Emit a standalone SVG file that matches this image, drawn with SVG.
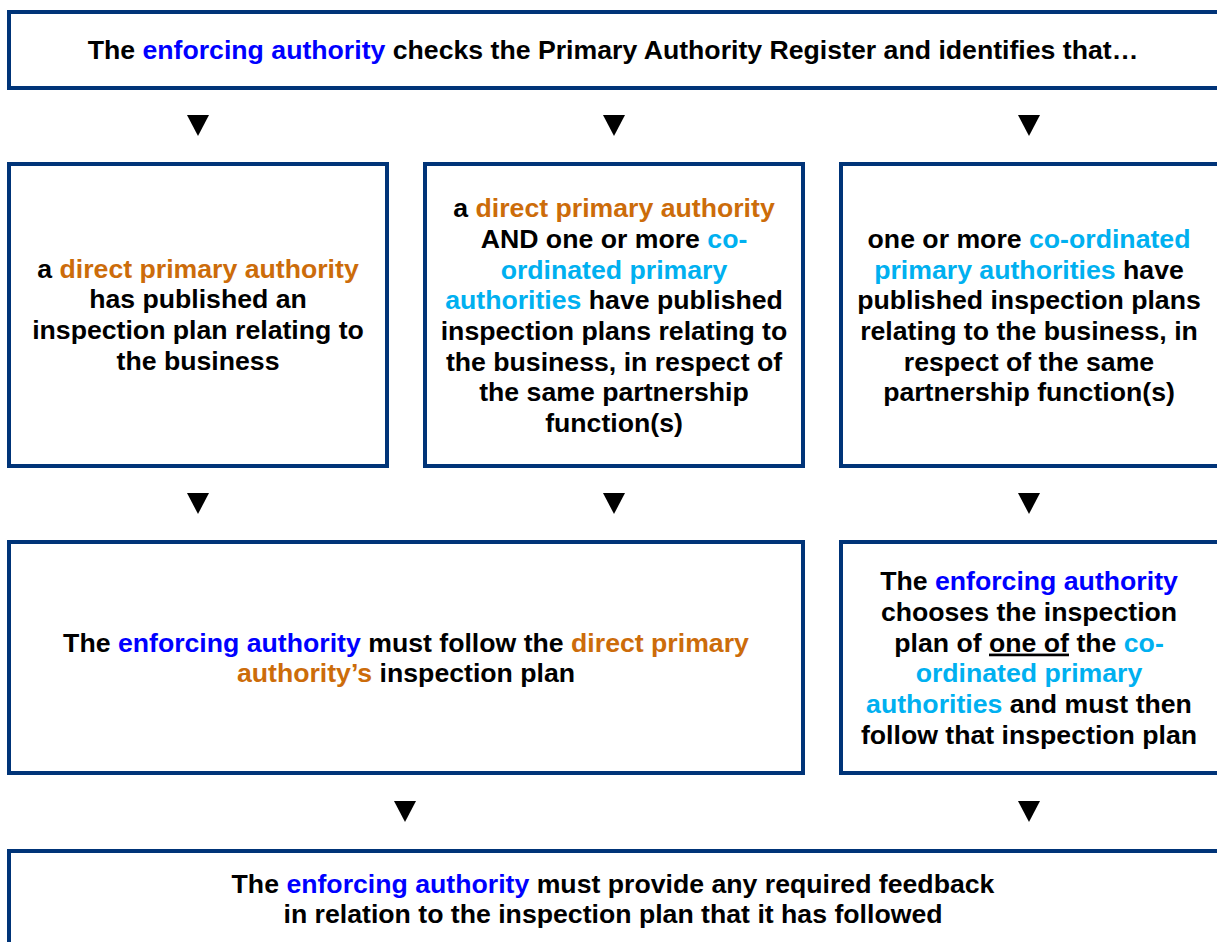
<svg xmlns="http://www.w3.org/2000/svg" width="1217" height="942" viewBox="0 0 1217 942">
<style>
.box{fill:#ffffff;stroke:#003478;stroke-width:4;stroke-linejoin:miter}
text{font-family:"Liberation Sans",Arial,sans-serif;font-weight:bold;font-size:26.67px;fill:#000000;text-anchor:middle}
.b{fill:#0000FF}
.o{fill:#CC6C0A}
.c{fill:#00B0F0}
.arr{fill:#000000}
</style>
<rect x="0" y="0" width="1217" height="942" fill="#ffffff"/>
<g id="connectors">
<polygon class="arr" points="187,115 209,115 198,136"/>
<polygon class="arr" points="603,115 625,115 614,136"/>
<polygon class="arr" points="1018,115 1040,115 1029,136"/>
<polygon class="arr" points="187,493 209,493 198,514"/>
<polygon class="arr" points="603,493 625,493 614,514"/>
<polygon class="arr" points="1018,493 1040,493 1029,514"/>
<polygon class="arr" points="394,801 416,801 405,822"/>
<polygon class="arr" points="1018,801 1040,801 1029,822"/>
</g>
<g id="node-top">
<rect class="box" x="9" y="12" width="1214" height="76"/>
<text x="613" y="59">The <tspan class="b">enforcing authority</tspan> checks the Primary Authority Register and identifies that…</text>
</g>
<g id="node-direct">
<rect class="box" x="9" y="164" width="378" height="302"/>
<text x="198" y="277.5">a <tspan class="o">direct primary authority</tspan></text>
<text x="198" y="308.2">has published an</text>
<text x="198" y="338.8">inspection plan relating to</text>
<text x="198" y="369.5">the business</text>
</g>
<g id="node-both">
<rect class="box" x="425" y="164" width="378" height="302"/>
<text x="614" y="217.2">a <tspan class="o">direct primary authority</tspan></text>
<text x="614" y="247.9">AND one or more <tspan class="c">co-</tspan></text>
<text x="614" y="278.5"><tspan class="c">ordinated primary</tspan></text>
<text x="614" y="309.2"><tspan class="c">authorities</tspan> have published</text>
<text x="614" y="339.9">inspection plans relating to</text>
<text x="614" y="370.5">the business, in respect of</text>
<text x="614" y="401.2">the same partnership</text>
<text x="614" y="431.9">function(s)</text>
</g>
<g id="node-coordinated">
<rect class="box" x="841" y="164" width="382" height="302"/>
<text x="1029" y="247.8">one or more <tspan class="c">co-ordinated</tspan></text>
<text x="1029" y="278.5"><tspan class="c">primary authorities</tspan> have</text>
<text x="1029" y="309.1">published inspection plans</text>
<text x="1029" y="339.8">relating to the business, in</text>
<text x="1029" y="370.5">respect of the same</text>
<text x="1029" y="401.1">partnership function(s)</text>
</g>
<g id="node-follow-direct">
<rect class="box" x="9" y="542" width="794" height="231"/>
<text x="406" y="651.7">The <tspan class="b">enforcing authority</tspan> must follow the <tspan class="o">direct primary</tspan></text>
<text x="406" y="682.4"><tspan class="o">authority’s</tspan> inspection plan</text>
</g>
<g id="node-choose">
<rect class="box" x="841" y="542" width="382" height="231"/>
<text x="1029" y="590.3">The <tspan class="b">enforcing authority</tspan></text>
<text x="1029" y="621">chooses the inspection</text>
<text x="1029" y="651.6">plan of <tspan text-decoration="underline">one of</tspan> the <tspan class="c">co-</tspan></text>
<text x="1029" y="682.3"><tspan class="c">ordinated primary</tspan></text>
<text x="1029" y="713"><tspan class="c">authorities</tspan> and must then</text>
<text x="1029" y="743.6">follow that inspection plan</text>
</g>
<g id="node-feedback">
<rect class="box" x="9" y="851" width="1214" height="120"/>
<text x="613" y="892.5">The <tspan class="b">enforcing authority</tspan> must provide any required feedback</text>
<text x="613" y="923.2">in relation to the inspection plan that it has followed</text>
</g>
</svg>
